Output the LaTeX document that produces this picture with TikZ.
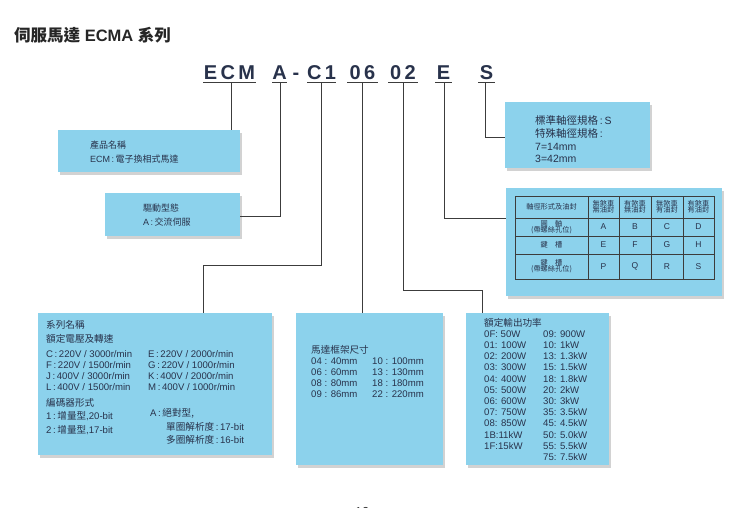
\documentclass[tikz,border=0pt]{standalone}
\usepackage{fontspec}
\setmainfont{Liberation Sans}
\newfontfamily\cjk{Noto Sans CJK TC}
\newcommand{\cj}[1]{{\cjk #1}}
\usetikzlibrary{shadows}
\definecolor{boxblue}{RGB}{140,210,236}
\definecolor{txt}{RGB}{40,50,75}
\definecolor{ln}{RGB}{60,60,60}
\tikzset{
  infobox/.style={fill=boxblue,draw=none,drop shadow={shadow xshift=2pt,shadow yshift=-3pt,opacity=0.35}},
  conn/.style={draw=ln,line width=1pt},
  tx/.style={anchor=base west,inner sep=0,text=txt,font=\fontsize{9.6}{11}\selectfont},
  code/.style={anchor=base,inner sep=0,font=\fontsize{20}{21}\bfseries\selectfont,text=txt},
  tc/.style={anchor=center,inner sep=0,text=txt,font=\fontsize{7.2}{7.6}\selectfont,align=center}
}
\begin{document}
\begin{tikzpicture}[x=1pt,y=-1pt]
\useasboundingbox[fill=white] (0,0) rectangle (750,507);
\node[anchor=base west,inner sep=0,font=\fontsize{16.5}{18}\bfseries\selectfont,text=black!85] (title) at (14,41) {\cj{伺服馬達} ECMA \cj{系列}};
% code
\node[code] (cECM) at (229.5,79) {E\,C\,M};
\node[code] (cA) at (279.5,79) {A};
\node[code] (cdash) at (296,79) {-};
\node[code] (cC) at (321.5,79) {C\,1};
\node[code] (c06) at (362.5,79) {0\,6};
\node[code] (c02) at (403,79) {0\,2};
\node[code] (cE) at (443.5,79) {E};
\node[code] (cS) at (486.5,79) {S};
\foreach \a/\b in {203/256,272/287,307/336,347/378,388/418,435/452,478/495}
  \draw[ln,line width=1pt] (\a,82) -- (\b,82);
\coordinate (uECM) at (231,82);
\coordinate (uA) at (280,82);
\coordinate (uC) at (321,82);
\coordinate (u06) at (362,82);
\coordinate (u02) at (403,82);
\coordinate (uE) at (444,82);
\coordinate (uS) at (485,82);
% boxes
\node[infobox,minimum width=182,minimum height=42,anchor=north west] (b1) at (58,130) {};
\node[infobox,minimum width=135,minimum height=43,anchor=north west] (b2) at (105,193) {};
\node[infobox,minimum width=234,minimum height=142,anchor=north west] (b3) at (38,313) {};
\node[infobox,minimum width=147,minimum height=152,anchor=north west] (b4) at (296,313) {};
\node[infobox,minimum width=143,minimum height=152,anchor=north west] (b5) at (466,313) {};
\node[infobox,minimum width=216,minimum height=108,anchor=north west] (b6) at (506,188) {};
\node[infobox,minimum width=145,minimum height=66,anchor=north west] (b7) at (505,102) {};
% connectors
\draw[conn] (uECM) -- (uECM |- b1.north);
\draw[conn] (uA) |- (b2.east |- 0,216);
\draw[conn] (uC) -- (321,265) -| (203,313);
\draw[conn] (u06) -- (u06 |- b4.north);
\draw[conn] (u02) -- (403,290) -| (482,313);
\draw[conn] (uE) |- (b6.west |- 0,218);
\draw[conn] (uS) |- (b7.west |- 0,137);
% box1
\node[tx,font=\fontsize{9}{10}\selectfont] (t1a) at (90,148) {\cj{產品名稱}};
\node[tx,font=\fontsize{9}{10}\selectfont] (t1b) at (90,162) {ECM\,:\,\cj{電子換相式馬達}};
\node[tx,font=\fontsize{9}{10}\selectfont] (t2a) at (143,211) {\cj{驅動型態}};
\node[tx,font=\fontsize{9}{10}\selectfont] (t2b) at (143,225) {A\,:\,\cj{交流伺服}};
% box7
\node[tx,font=\fontsize{10.5}{11}\selectfont] (t7a) at (535,124) {\cj{標準軸徑規格}\,:\,S};
\node[tx,font=\fontsize{10.5}{11}\selectfont] (t7b) at (535,137) {\cj{特殊軸徑規格}\,:};
\node[tx,font=\fontsize{10.5}{11}\selectfont] (t7c) at (535,150) {7=14mm};
\node[tx,font=\fontsize{10.5}{11}\selectfont] (t7d) at (535,162) {3=42mm};
% table
\draw[ln,line width=0.6pt] (515,196) rectangle (714,279);
\foreach \x in {588,619,651,683} \draw[ln,line width=0.6pt] (\x,196) -- (\x,279);
\foreach \y in {218,236,254} \draw[ln,line width=0.6pt] (515,\y) -- (714,\y);
\node[tc] (h0) at (551.5,207) {\cj{軸徑形式及油封}};
\node[tc] (h1) at (603.5,207) {\cj{無煞車}\\[-1.5pt]\cj{無油封}};
\node[tc] (h2) at (635,207) {\cj{有煞車}\\[-1.5pt]\cj{無油封}};
\node[tc] (h3) at (667,207) {\cj{無煞車}\\[-1.5pt]\cj{有油封}};
\node[tc] (h4) at (698.5,207) {\cj{有煞車}\\[-1.5pt]\cj{有油封}};
\node[tc] (r1) at (551.5,227) {\cj{圓\quad 軸}\\[-1.5pt]\cj{(帶螺絲孔位)}};
\node[tc] (r2) at (551.5,245) {\cj{鍵\quad 槽}};
\node[tc] (r3) at (551.5,266.5) {\cj{鍵\quad 槽}\\[-1.5pt]\cj{(帶螺絲孔位)}};
\foreach \l/\x/\y in {A/603.5/227,B/635/227,C/667/227,D/698.5/227,E/603.5/245,F/635/245,G/667/245,H/698.5/245,P/603.5/266.5,Q/635/266.5,R/667/266.5,S/698.5/266.5}
  \node[tc,font=\fontsize{8.5}{9}\selectfont] (cell\l) at (\x,\y) {\l};
% box3
\node[tx] (t3a) at (46,328) {\cj{系列名稱}};
\node[tx] (t3b) at (46,342) {\cj{額定電壓及轉速}};
\node[tx] (t3c) at (46,357) {C\,:\,220V / 3000r/min};
\node[tx] (t3d) at (46,368) {F\,:\,220V / 1500r/min};
\node[tx] (t3e) at (46,379) {J\,:\,400V / 3000r/min};
\node[tx] (t3f) at (46,390) {L\,:\,400V / 1500r/min};
\node[tx] (t3g) at (148,357) {E\,:\,220V / 2000r/min};
\node[tx] (t3h) at (148,368) {G\,:\,220V / 1000r/min};
\node[tx] (t3i) at (148,379) {K\,:\,400V / 2000r/min};
\node[tx] (t3j) at (148,390) {M\,:\,400V / 1000r/min};
\node[tx] (t3k) at (46,406) {\cj{編碼器形式}};
\node[tx] (t3l) at (46,419) {1\,:\,\cj{增量型},20-bit};
\node[tx] (t3m) at (46,433) {2\,:\,\cj{增量型},17-bit};
\node[tx] (t3n) at (150,416) {A\,:\,\cj{絕對型}\cj{,}};
\node[tx] (t3o) at (166,430) {\cj{單圈解析度}\,:\,17-bit};
\node[tx] (t3p) at (166,443) {\cj{多圈解析度}\,:\,16-bit};
% box4
\node[tx] (t4a) at (311,353) {\cj{馬達框架尺寸}};
\foreach \a/\b/\y [count=\i] in {04 : 40mm/10 : 100mm/364,06 : 60mm/13 : 130mm/375,08 : 80mm/18 : 180mm/386,09 : 86mm/22 : 220mm/397}{
  \node[tx] (t4l\i) at (311,\y) {\a};
  \node[tx] (t4r\i) at (372,\y) {\b};}
% box5
\node[tx] (t5a) at (484,326) {\cj{額定輸出功率}};
\foreach \a/\b [count=\i] in {0F: 50W/09: 900W,01: 100W/10: 1kW,02: 200W/13: 1.3kW,03: 300W/15: 1.5kW,04: 400W/18: 1.8kW,05: 500W/20: 2kW,06: 600W/30: 3kW,07: 750W/35: 3.5kW,08: 850W/45: 4.5kW,1B:11kW/50: 5.0kW,1F:15kW/55: 5.5kW}{
  \node[tx] (t5l\i) at (484,326+11.2*\i) {\a};
  \node[tx] (t5r\i) at (543,326+11.2*\i) {\b};}
\node[tx] (t5r12) at (543,460.4) {75: 7.5kW};
% page number (cut off at the page edge, as in the reference)
\begin{scope}
\clip (0,0) rectangle (750,507);
\node[anchor=base,inner sep=0,font=\fontsize{13}{14}\selectfont,text=black!80] (pg) at (362,516) {10};
\end{scope}
\end{tikzpicture}
\end{document}
